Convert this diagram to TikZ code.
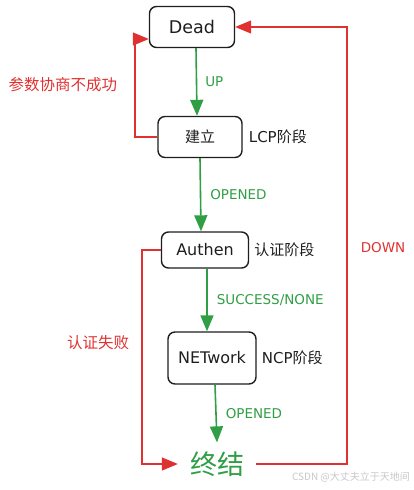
\documentclass[tikz,border=0pt]{standalone}
\usepackage{fontspec}
\setmainfont{DejaVu Sans}
\newfontfamily\cjk{Noto Sans CJK SC}
\usetikzlibrary{positioning,arrows.meta}

\definecolor{flowgreen}{HTML}{2F9E44}
\definecolor{failred}{HTML}{E03131}
\definecolor{boxblack}{HTML}{1E1E1E}
\definecolor{markgray}{HTML}{C8C8C8}

\begin{document}
\begin{tikzpicture}[
    x=1pt, y=-1pt,
    >={Triangle[length=16pt,width=13pt]},
    every node/.style={font=\fontsize{15}{18}\selectfont, text=boxblack},
    state/.style={draw=boxblack, line width=1.4pt, rounded corners=7pt,
                  fill=white, inner sep=0pt, font=\fontsize{16}{19}\selectfont},
    ok/.style={->, flowgreen, line width=1.6pt},
    fail/.style={->, failred, line width=1.2pt},
    oklabel/.style={text=flowgreen, inner sep=2pt, font=\fontsize{13.5}{16}\selectfont},
    faillabel/.style={text=failred, font=\cjk\fontsize{15.5}{18}\selectfont},
    stage/.style={inner sep=2pt}
]

\useasboundingbox (0,0) rectangle (413,490);

% === States ===
\node[state, minimum width=85, minimum height=41, font=\fontsize{17.5}{20}\selectfont]
    (dead) at (192,27) {Dead};
\node[state, minimum width=84, minimum height=41, font=\cjk\fontsize{15}{18}\selectfont]
    (lcp) at (200,137) {建立};
\node[state, minimum width=87, minimum height=36] (authen) at (205,250) {Authen};
\node[state, minimum width=88, minimum height=52] (network) at (212,358) {NETwork};
\node[text=flowgreen, font=\cjk\fontsize{27}{30}\selectfont, inner xsep=12pt, inner ysep=9pt]
    (fin) at (217,464) {终结};

% Stage names beside the boxes
\node[stage, right=4pt of lcp] (lcpname) {LCP{\cjk 阶段}};
\node[stage, right=3pt of authen] (authname) {\cjk 认证阶段};
\node[stage, right=3pt of network] (ncpname) {NCP{\cjk 阶段}};

% === Normal path (green) ===
\draw[ok] ([xshift=4]dead.south) -- ([xshift=-3]lcp.north)
    node[oklabel, midway, right=6pt] (up) {UP};
\draw[ok] (lcp.south) -- ([xshift=-4]authen.north)
    node[oklabel, midway, right=7pt] (opened1) {OPENED};
\draw[ok] ([xshift=2]authen.south) -- ([xshift=-5]network.north)
    node[oklabel, midway, right=7pt] (success) {SUCCESS/NONE};
\draw[ok] ([xshift=3]network.south) -- (fin.north)
    node[oklabel, midway, right=7pt] (opened2) {OPENED};

% === Failure paths (red) ===
\coordinate (lcpfail) at (135,137);
\coordinate (authfail) at (142,250);
\coordinate (downturn) at (347,464);

\draw[fail] (lcp.west) -- (lcpfail) |- ([yshift=-12]dead.west);
\draw[fail] (authen.west) -- (authfail) |- (fin.west);
\draw[fail] (fin.east) -- (downturn) |- (dead.east);

\node[faillabel] (nego) at (63,85) {参数协商不成功};
\node[faillabel] (authfailtext) at (98,343) {认证失败};
\node[text=failred, font=\fontsize{13.5}{16}\selectfont] (down) at (383,248) {DOWN};

% Watermark
\node[text=markgray, font=\cjk\fontsize{10}{12}\selectfont] (mark) at (351,477)
    {CSDN @大丈夫立于天地间};

\end{tikzpicture}
\end{document}
